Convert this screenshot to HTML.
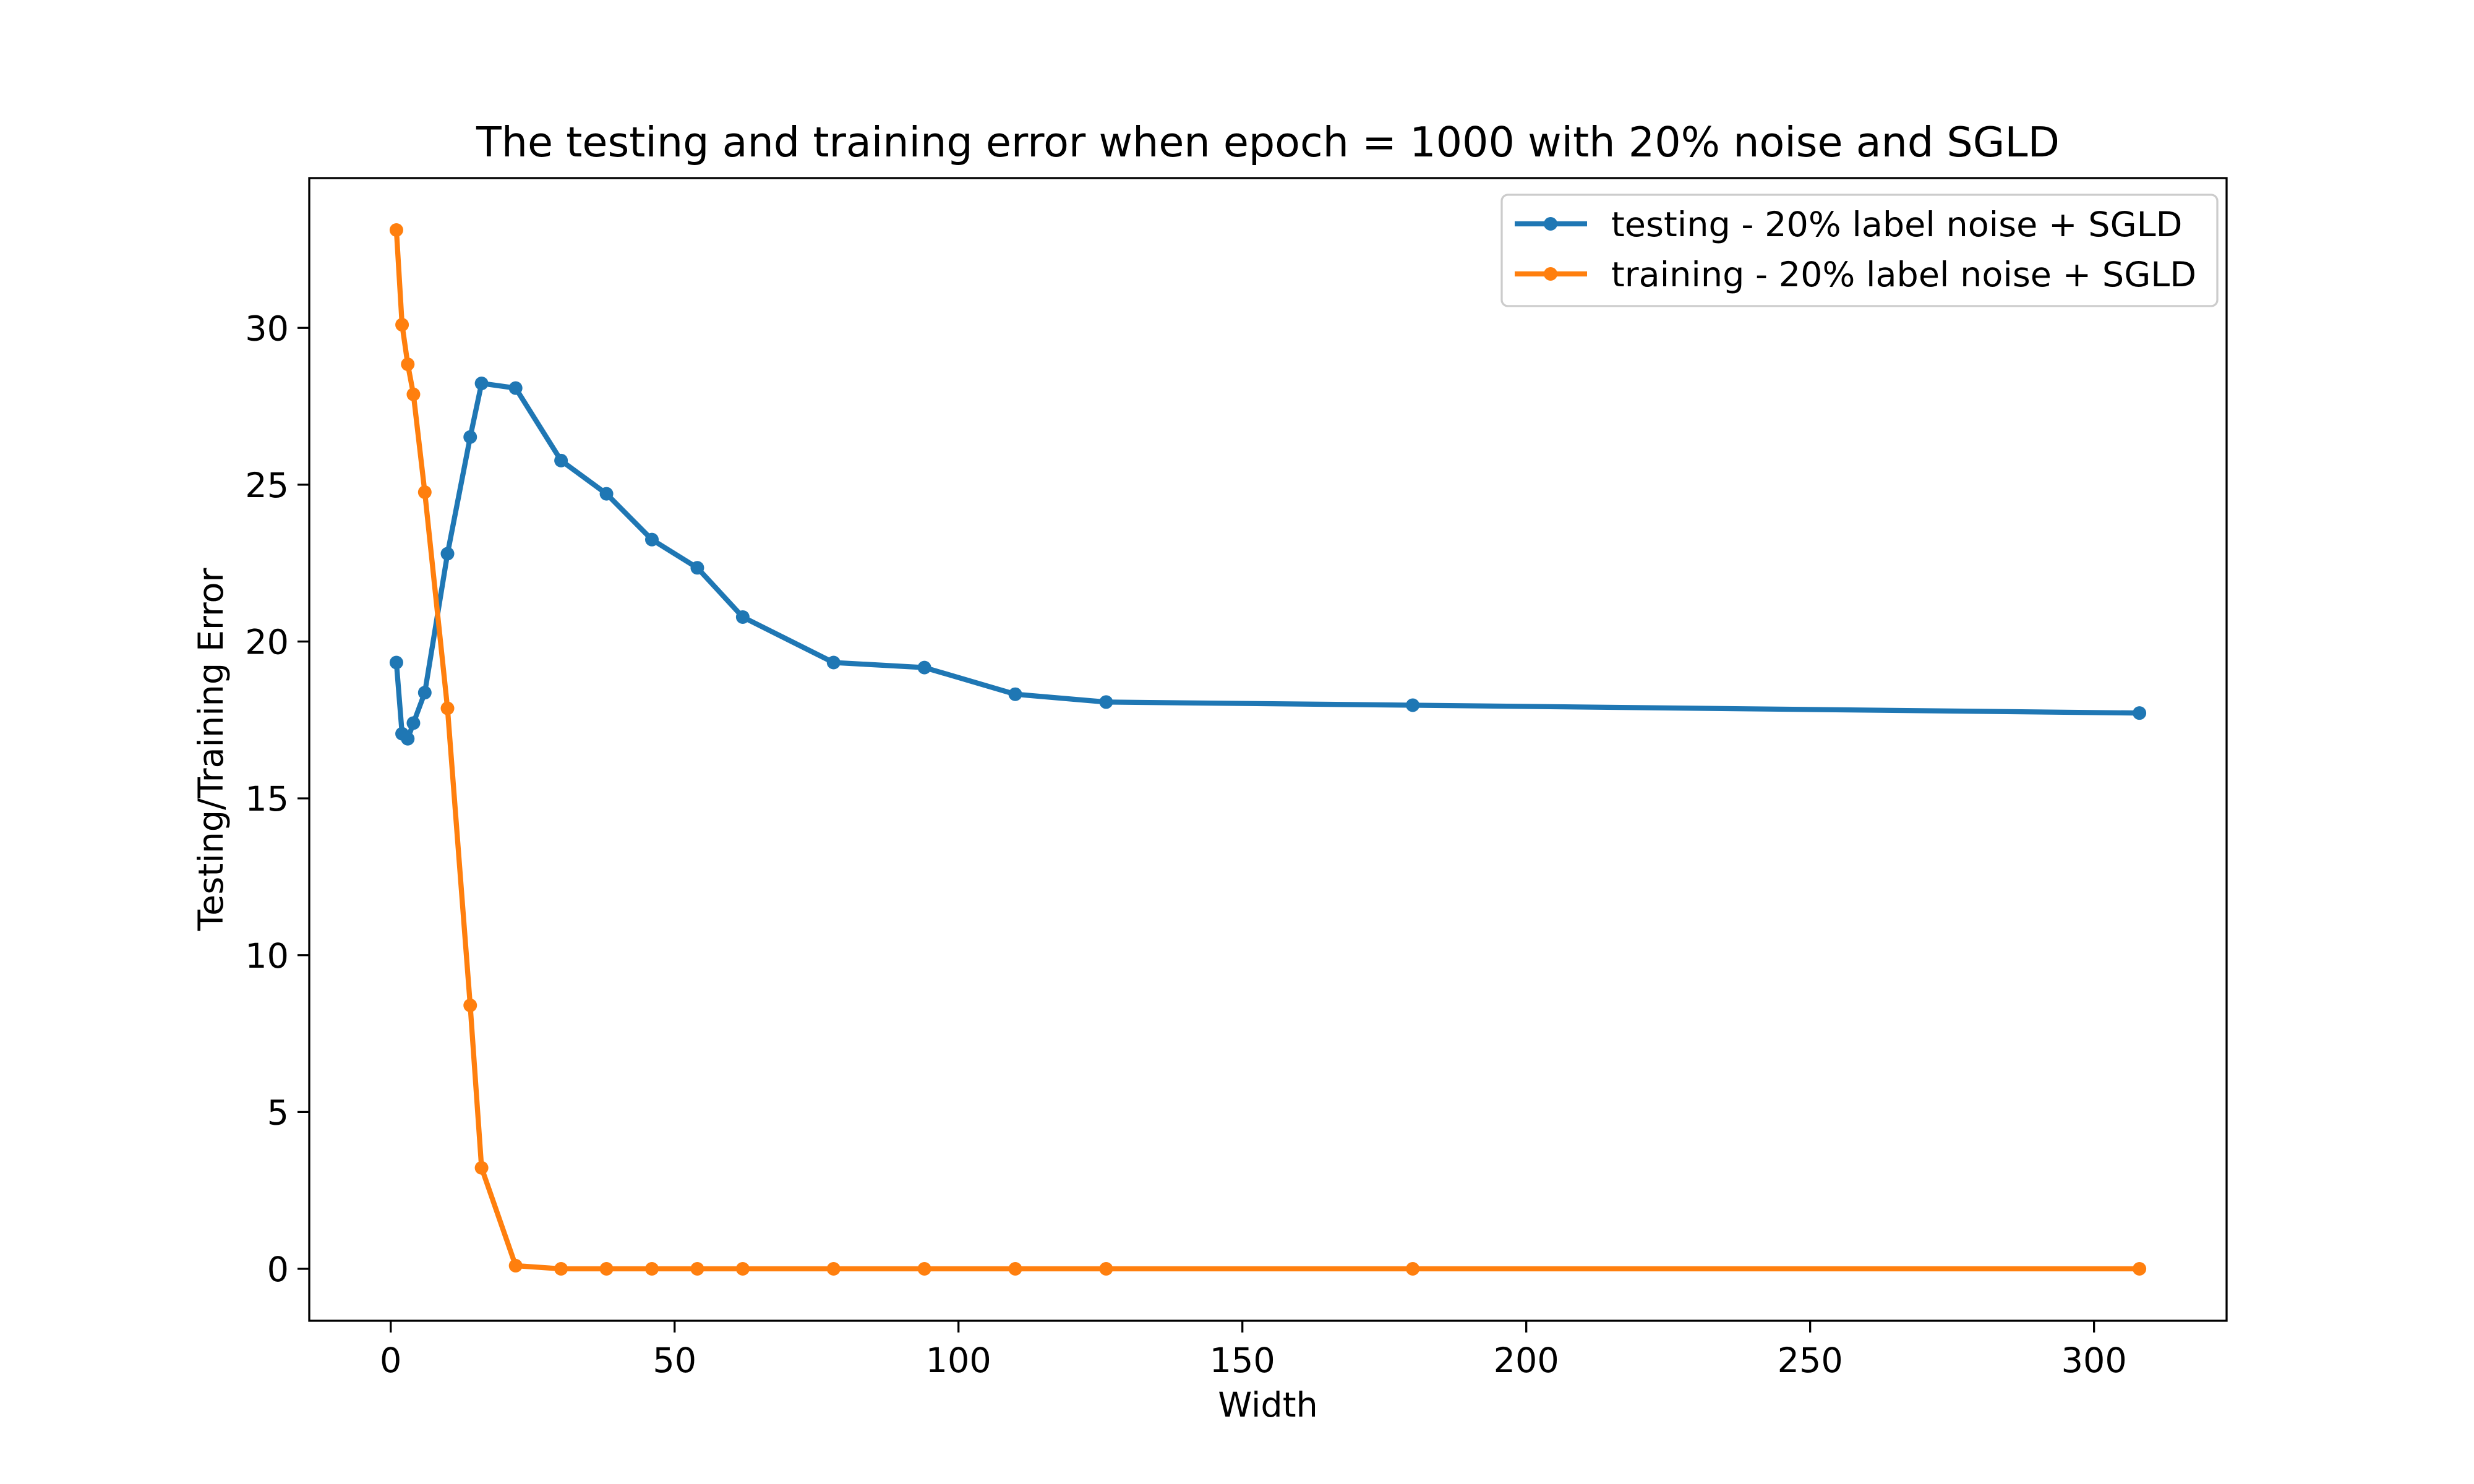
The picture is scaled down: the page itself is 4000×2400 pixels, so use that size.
<!DOCTYPE html>
<html><head><meta charset="utf-8">
<style>html,body{margin:0;padding:0;background:#fff}svg{display:block}text{font-family:"DejaVu Sans","Liberation Sans",sans-serif;fill:#000}</style>
</head><body>
<svg id="chart" width="4000" height="2400" viewBox="0 0 4000 2400" xmlns="http://www.w3.org/2000/svg">
<rect width="4000" height="2400" fill="#fff"/>
<text x="2050" y="253" font-size="66.7" text-anchor="middle">The testing and training error when epoch = 1000 with 20% noise and SGLD</text>
<g id="grid"></g>
<g id="series"></g>
<rect x="500" y="288" width="3100" height="1848" fill="none" stroke="#000" stroke-width="3.3"/>
<g id="ticks"></g>
<text x="2050" y="2291" font-size="55.6" text-anchor="middle">Width</text>
<text transform="translate(360,1212) rotate(-90)" font-size="55.6" text-anchor="middle">Testing/Training Error</text>
<g>
<rect x="2428" y="315" width="1157" height="180" rx="10" fill="#fff" fill-opacity="0.8" stroke="#ccc" stroke-width="3.3"/>
<g>
<line x1="2449" y1="362" x2="2566" y2="362" stroke="#1f77b4" stroke-width="8.3"/>
<circle cx="2507" cy="362" r="11" fill="#1f77b4"/>
<text x="2605" y="382" font-size="55.6">testing - 20% label noise + SGLD</text>
</g>
<g>
<line x1="2449" y1="443" x2="2566" y2="443" stroke="#ff7f0e" stroke-width="8.3"/>
<circle cx="2507" cy="443" r="11" fill="#ff7f0e"/>
<text x="2605" y="463" font-size="55.6">training - 20% label noise + SGLD</text>
</g>
</g>
</svg>
<script>
const widths = [1,2,3,4,6,10,14,16,22,30,38,46,54,62,78,94,110,126,180,308];
const testing = [19.33,17.06,16.9,17.4,18.37,22.8,26.52,28.23,28.08,25.77,24.71,23.25,22.35,20.78,19.33,19.17,18.32,18.07,17.97,17.72];
const training = [33.12,30.1,28.84,27.88,24.76,17.87,8.4,3.22,0.1,0,0,0,0,0,0,0,0,0,0,0];
const xTicks = [0,50,100,150,200,250,300];
const yTicks = [0,5,10,15,20,25,30];

const NS = "http://www.w3.org/2000/svg";
const L=500,R=3600,T=288,B=2136;
const xmin=Math.min(...widths), xmax=Math.max(...widths);
const xpad=(xmax-xmin)*0.05;
const allY=testing.concat(training);
const ymin=Math.min(...allY), ymax=Math.max(...allY);
const ypad=(ymax-ymin)*0.05;
const x0=xmin-xpad, x1=xmax+xpad, y0=ymin-ypad, y1=ymax+ypad;
function sx(v){return L+(v-x0)/(x1-x0)*(R-L);}
function sy(v){return B-(v-y0)/(y1-y0)*(B-T);}
function mk(tag,attrs,parent){const e=document.createElementNS(NS,tag);for(const k in attrs)e.setAttribute(k,attrs[k]);parent.appendChild(e);return e;}

const ticks=document.getElementById('ticks');
xTicks.forEach(v=>{
  const g=mk('g',{},ticks);
  
  
  mk('line',{x1:sx(v),x2:sx(v),y1:B,y2:B+19,stroke:'#000','stroke-width':3.3},g);
  const t=mk('text',{x:sx(v),y:B+83,'font-size':55.6,'text-anchor':'middle'},g);
  t.textContent=v;
});
yTicks.forEach(v=>{
  const g=mk('g',{},ticks);
  
  
  mk('line',{x1:L-19,x2:L,y1:sy(v),y2:sy(v),stroke:'#000','stroke-width':3.3},g);
  const t=mk('text',{x:L-33,y:sy(v)+20,'font-size':55.6,'text-anchor':'end'},g);
  t.textContent=v;
});

const series=document.getElementById('series');
function draw(vals,color,name){
  const g=mk('g',{},series);
  
  
  const pts=widths.map((w,i)=>sx(w)+','+sy(vals[i])).join(' ');
  const pl=mk('polyline',{points:pts,fill:'none',stroke:color,'stroke-width':8.3,'stroke-linejoin':'round','stroke-linecap':'square'},g);
  
  
  widths.forEach((w,i)=>{
    const c=mk('circle',{cx:sx(w),cy:sy(vals[i]),r:11,fill:color},g);
    
    
  });
}
draw(testing,'#1f77b4','testing');
draw(training,'#ff7f0e','training');
</script>
</body></html>
